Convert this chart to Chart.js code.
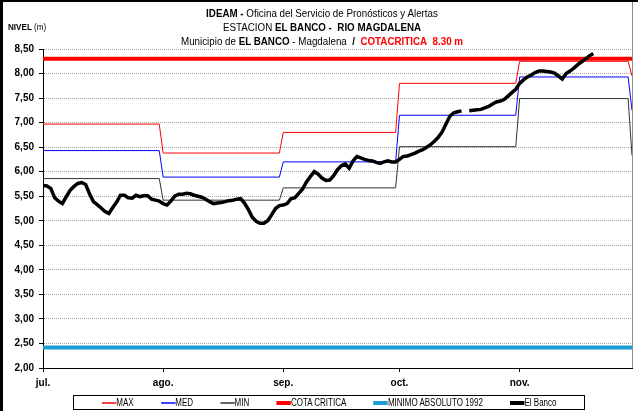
<!DOCTYPE html>
<html>
<head>
<meta charset="utf-8">
<script src="https://cdn.jsdelivr.net/npm/chart.js@4.4.1/dist/chart.umd.min.js"></script>
<style>
  body { margin: 0; background: #fff; }
  #wrap { position: relative; width: 638px; height: 411px; overflow: hidden; background: #fff;
          font-family: "Liberation Sans", Arial, sans-serif; color: #000; }
  #wrap canvas { position: absolute; left: 0; top: 0; }
  .frame-left { position: absolute; left: 0; top: 0; width: 3px; height: 411px; background: #000; }
  .frame-top { position: absolute; left: 0; top: 0; width: 638px; height: 2px; background: #000; }
  #title { position: absolute; left: 6px; width: 632px; top: 6px; text-align: center; font-size: 11px; line-height: 14px; }
  #title div { transform: scaleX(0.89); transform-origin: center; }
  #title .red { color: #ff0000; font-weight: bold; }
  #ylabel { position: absolute; left: 8px; top: 22px; font-size: 9px; transform: scaleX(0.9); transform-origin: left; }
  #legend { position: absolute; left: 73px; top: 395px; width: 510px; height: 13px; border: 1px solid #000; }
  #legend-items { width: 638px; height: 13px; transform: scaleX(0.8); transform-origin: left center;
                  display: flex; justify-content: center; align-items: center; gap: 34px; font-size: 10px; }
  .item { display: flex; align-items: center; white-space: nowrap; }
  .swatch { display: inline-block; width: 18px; }
</style>
</head>
<body>
<div id="wrap">
  <canvas id="chart" width="638" height="411"></canvas>
  <div class="frame-left"></div>
  <div class="frame-top"></div>
  <div id="ylabel"><b>NIVEL</b> (m)</div>
  <div id="title">
    <div><b>IDEAM -</b> Oficina del Servicio de Pronósticos y Alertas</div>
    <div>ESTACION <b>EL BANCO -&nbsp; RIO MAGDALENA</b></div>
    <div>Municipio de <b>EL BANCO</b> - Magdalena <b>&nbsp;/&nbsp;</b> <span class="red">COTACRITICA&nbsp; 8.30 m</span></div>
  </div>
  <div id="legend"><div id="legend-items"></div></div>
</div>
<script>
// --- datos (días contados desde el 1 de julio) ---
const months = ['jul.', 'ago.', 'sep.', 'oct.', 'nov.'];
const monthStartDays = [0, 31, 62, 92, 123];
const lastDay = 152;

// niveles históricos por mes + valor del último día
const maxLevels = [6.97, 6.38, 6.80, 7.80, 8.25];
const maxLast = 7.95;
const medLevels = [6.43, 5.89, 6.20, 7.15, 7.93];
const medLast = 7.25;
const minLevels = [5.86, 5.42, 5.67, 6.51, 7.49];
const minLast = 6.33;

const cotaCritica = 8.30;
const minimoAbsoluto1992 = 2.42;

// nivel diario observado, estación El Banco (null = sin dato)
const elBanco = [
  5.72, 5.71, 5.66, 5.47, 5.40, 5.35, 5.49, 5.62, 5.70, 5.76,
  5.78, 5.74, 5.55, 5.39, 5.33, 5.26, 5.19, 5.15, 5.27, 5.38,
  5.52, 5.52, 5.47, 5.46, 5.52, 5.49, 5.51, 5.51, 5.44, 5.42,
  5.40, 5.35, 5.32, 5.40, 5.50, 5.54, 5.54, 5.56, 5.55, 5.52,
  5.50, 5.48, 5.44, 5.39, 5.35, 5.36, 5.37, 5.39, 5.41, 5.42,
  5.44, 5.45, 5.36, 5.23, 5.07, 4.99, 4.95, 4.95, 5.00, 5.12,
  5.25, 5.31, 5.32, 5.35, 5.45, 5.47, 5.56, 5.65, 5.79, 5.90,
  6.00, 5.95, 5.87, 5.82, 5.83, 5.92, 6.04, 6.12, 6.16, 6.07,
  6.22, 6.31, 6.28, 6.25, 6.23, 6.22, 6.19, 6.17, 6.20, 6.22,
  6.20, 6.20, 6.25, 6.31, 6.32, 6.35, 6.38, 6.42, 6.45, 6.50,
  6.55, 6.62, 6.70, 6.81, 6.97, 7.13, 7.20, 7.22, 7.24, null,
  7.24, 7.25, 7.26, 7.27, 7.30, 7.33, 7.38, 7.42, 7.44, 7.47,
  7.54, 7.61, 7.68, 7.80, 7.87, 7.93, 7.97, 8.02, 8.05, 8.05,
  8.04, 8.03, 8.01, 7.95, 7.89, 8.00, 8.05, 8.11, 8.18, 8.24,
  8.30, 8.36, 8.41
];

// escalones mensuales -> puntos para la linea
function stepPoints(levels, last) {
    const pts = [];
    levels.forEach((v, i) => {
        const start = monthStartDays[i];
        const end = i < levels.length - 1 ? monthStartDays[i + 1] - 1 : lastDay - 1;
        pts.push({ x: start, y: v }, { x: end, y: v });
    });
    pts.push({ x: lastDay, y: last });
    return pts;
}
const flat = v => [{ x: 0, y: v }, { x: lastDay, y: v }];

const datasets = [
    { label: 'MAX', data: stepPoints(maxLevels, maxLast), borderColor: '#ff0000', borderWidth: 1, order: 5 },
    { label: 'MED', data: stepPoints(medLevels, medLast), borderColor: '#0000ff', borderWidth: 1, order: 4 },
    { label: 'MIN', data: stepPoints(minLevels, minLast), borderColor: '#333333', borderWidth: 1, order: 3 },
    { label: 'COTA CRITICA', data: flat(cotaCritica), borderColor: '#ff0000', borderWidth: 4, order: 2 },
    { label: 'MINIMO ABSOLUTO 1992', data: flat(minimoAbsoluto1992), borderColor: '#1a9fd4', borderWidth: 4, order: 1 },
    { label: 'El Banco', data: elBanco.map((v, i) => ({ x: i, y: v })), borderColor: '#000000', borderWidth: 3.5, order: 0 }
];
datasets.forEach(d => { d.pointRadius = 0; d.tension = 0; d.fill = false; d.spanGaps = false; });

// borde derecho del area de trazado
const plotFrame = {
    id: 'plotFrame',
    afterDraw(chart) {
        const { ctx, chartArea } = chart;
        ctx.save();
        ctx.strokeStyle = '#8c8c8c';
        ctx.lineWidth = 1;
        ctx.beginPath();
        ctx.moveTo(Math.round(chartArea.right) + 0.5, 0);
        ctx.lineTo(Math.round(chartArea.right) + 0.5, chartArea.bottom);
        ctx.stroke();
        ctx.restore();
    }
};

const tickFont = { family: '"Liberation Sans", Arial, sans-serif', size: 10, weight: 'bold' };

const chart = new Chart(document.getElementById('chart'), {
    type: 'line',
    data: { datasets },
    options: {
        responsive: false,
        animation: false,
        layout: { padding: { top: 49, right: 6, bottom: 23, left: 0 } },
        plugins: { legend: { display: false }, title: { display: false }, tooltip: { enabled: false } },
        scales: {
            x: {
                type: 'linear',
                min: 0,
                max: lastDay,
                afterBuildTicks: scale => { scale.ticks = monthStartDays.map(v => ({ value: v })); },
                afterFit: scale => { scale.height = 20; },
                ticks: {
                    autoSkip: false,
                    maxRotation: 0,
                    padding: 5,
                    color: '#000',
                    font: tickFont,
                    callback: v => months[monthStartDays.indexOf(v)]
                },
                grid: { drawOnChartArea: false, drawTicks: true, tickLength: 4, color: '#000', tickColor: '#000' },
                border: { display: true, color: '#000', width: 1 }
            },
            y: {
                min: 2,
                max: 8.5,
                afterFit: scale => { scale.width = 43; },
                ticks: {
                    stepSize: 0.5,
                    padding: 5,
                    color: '#000',
                    font: tickFont,
                    callback: v => v.toFixed(2).replace('.', ',')
                },
                grid: { color: '#a6a6a6', lineWidth: 1, tickLength: 4, tickColor: '#000', tickBorderDash: [] },
                border: { display: true, color: '#000', width: 1, dash: [1, 1] }
            }
        }
    },
    plugins: [plotFrame]
});

// --- leyenda en HTML a partir de los datasets ---
const legendEl = document.getElementById('legend-items');
chart.data.datasets.forEach(ds => {
    const item = document.createElement('div');
    item.className = 'item';
    const sw = document.createElement('span');
    sw.className = 'swatch';
    sw.style.height = Math.max(2, Math.round(ds.borderWidth)) + 'px';
    sw.style.background = ds.borderColor;
    if (ds.borderWidth === 1) sw.style.opacity = 0.75;
    const txt = document.createElement('span');
    txt.textContent = ds.label;
    item.appendChild(sw);
    item.appendChild(txt);
    legendEl.appendChild(item);
});
</script>
</body>
</html>
